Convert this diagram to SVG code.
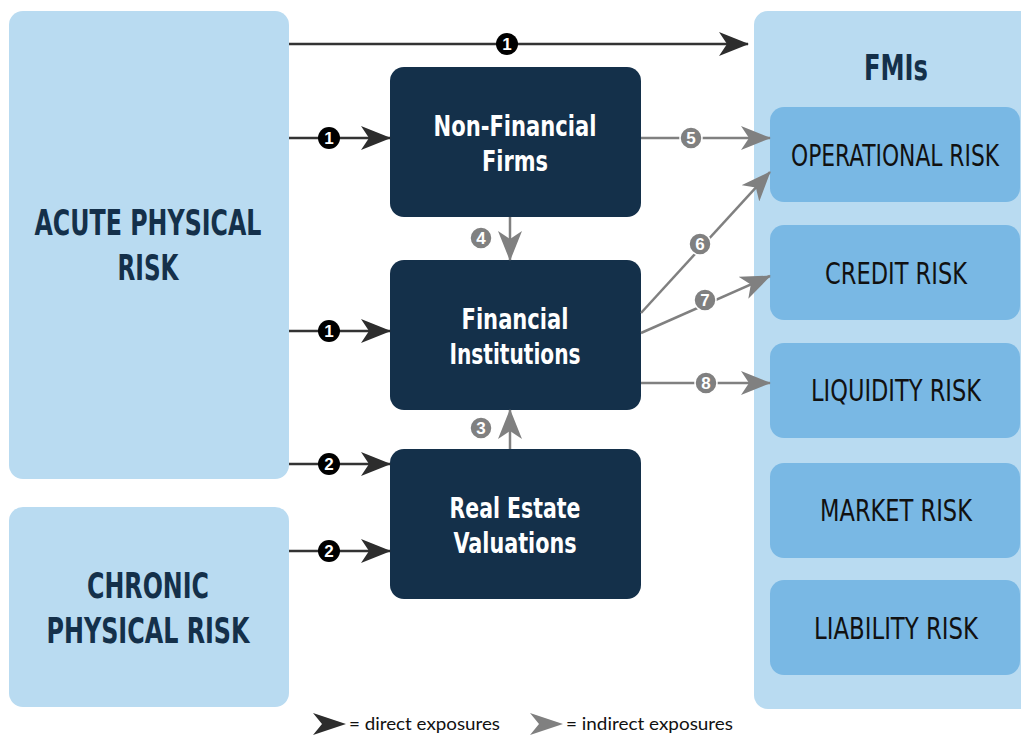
<svg xmlns="http://www.w3.org/2000/svg" width="1021" height="736" viewBox="0 0 1021 736">
<defs>
<style>
.lt{fill:#b9dbf1}
.rk{fill:#79b8e4}
.dk{fill:#14304a}
.h{font-family:"Liberation Sans Narrow","DejaVu Sans Condensed","Liberation Sans",sans-serif;font-weight:bold;fill:#14304a;text-anchor:middle}
.w{font-family:"Liberation Sans Narrow","DejaVu Sans Condensed","Liberation Sans",sans-serif;font-weight:bold;fill:#fff;text-anchor:middle;font-size:28px}
.r{font-family:"Liberation Sans Narrow","DejaVu Sans Condensed","Liberation Sans",sans-serif;fill:#111;text-anchor:middle;font-size:30px}
.ld{stroke:#333;stroke-width:2.5;fill:none}
.lg{stroke:#808080;stroke-width:2.5;fill:none}
.bd{fill:#000}
.bg{fill:#808080;stroke:#fff;stroke-width:1.5}
.n{font-family:"Liberation Sans Narrow","Liberation Sans",sans-serif;font-weight:bold;font-size:17px;fill:#fff;text-anchor:middle}
.lgd{font-family:Lato,"Liberation Sans",sans-serif;font-size:18px;fill:#111}
</style>
<marker id="ad" viewBox="0 0 30 24" refX="29" refY="12" markerWidth="30" markerHeight="24" markerUnits="userSpaceOnUse" orient="auto">
<path d="M0,0 L30,12 L0,24 L8,12 Z" fill="#2d2d2d"/>
</marker>
<marker id="ag" viewBox="0 0 30 24" refX="29" refY="12" markerWidth="30" markerHeight="24" markerUnits="userSpaceOnUse" orient="auto">
<path d="M0,0 L30,12 L0,24 L8,12 Z" fill="#808080"/>
</marker>
</defs>
<rect width="1021" height="736" fill="#fff"/>

<g id="acute"><rect class="lt" x="9" y="11" width="280" height="468" rx="14"/>
<text class="h" x="148" y="235" font-size="36" textLength="227" lengthAdjust="spacingAndGlyphs">ACUTE PHYSICAL</text>
<text class="h" x="148" y="280" font-size="36" textLength="61" lengthAdjust="spacingAndGlyphs">RISK</text></g>

<g id="chronic"><rect class="lt" x="9" y="507" width="280" height="200" rx="14"/>
<text class="h" x="148" y="598" font-size="36" textLength="122" lengthAdjust="spacingAndGlyphs">CHRONIC</text>
<text class="h" x="148" y="643" font-size="36" textLength="203" lengthAdjust="spacingAndGlyphs">PHYSICAL RISK</text></g>

<g id="fmis"><rect class="lt" x="754" y="11" width="290" height="698" rx="14"/>
<text class="h" x="896" y="80" font-size="36" textLength="64" lengthAdjust="spacingAndGlyphs">FMIs</text></g>

<g id="operational"><rect class="rk" x="770" y="107" width="250" height="95" rx="14"/><text class="r" x="895" y="166" textLength="208" lengthAdjust="spacingAndGlyphs">OPERATIONAL RISK</text></g>
<g id="credit"><rect class="rk" x="770" y="225" width="250" height="95" rx="14"/><text class="r" x="896" y="284" textLength="142" lengthAdjust="spacingAndGlyphs">CREDIT RISK</text></g>
<g id="liquidity"><rect class="rk" x="770" y="343" width="250" height="95" rx="14"/><text class="r" x="896" y="401" textLength="170" lengthAdjust="spacingAndGlyphs">LIQUIDITY RISK</text></g>
<g id="market"><rect class="rk" x="770" y="463" width="250" height="95" rx="14"/><text class="r" x="896" y="521" textLength="152" lengthAdjust="spacingAndGlyphs">MARKET RISK</text></g>
<g id="liability"><rect class="rk" x="770" y="580" width="250" height="95" rx="14"/><text class="r" x="896" y="639" textLength="164" lengthAdjust="spacingAndGlyphs">LIABILITY RISK</text></g>

<g id="nonfinancial"><rect class="dk" x="390" y="67" width="251" height="150" rx="14"/>
<text class="w" x="515" y="136" textLength="163" lengthAdjust="spacingAndGlyphs">Non-Financial</text>
<text class="w" x="515" y="171" textLength="66" lengthAdjust="spacingAndGlyphs">Firms</text></g>
<g id="financial"><rect class="dk" x="390" y="260" width="251" height="150" rx="14"/>
<text class="w" x="515" y="329" textLength="107" lengthAdjust="spacingAndGlyphs">Financial</text>
<text class="w" x="515" y="364" textLength="131" lengthAdjust="spacingAndGlyphs">Institutions</text></g>
<g id="realestate"><rect class="dk" x="390" y="449" width="251" height="150" rx="14"/>
<text class="w" x="515" y="518" textLength="131" lengthAdjust="spacingAndGlyphs">Real Estate</text>
<text class="w" x="515" y="553" textLength="123" lengthAdjust="spacingAndGlyphs">Valuations</text></g>

<g id="connectors">
<line class="ld" x1="289" y1="44" x2="748" y2="44" marker-end="url(#ad)"/>
<line class="ld" x1="289" y1="138" x2="390" y2="138" marker-end="url(#ad)"/>
<line class="ld" x1="289" y1="331" x2="390" y2="331" marker-end="url(#ad)"/>
<line class="ld" x1="289" y1="464" x2="390" y2="464" marker-end="url(#ad)"/>
<line class="ld" x1="289" y1="551" x2="390" y2="551" marker-end="url(#ad)"/>
<line class="lg" x1="641" y1="138" x2="770" y2="138" marker-end="url(#ag)"/>
<line class="lg" x1="510" y1="217" x2="510" y2="260" marker-end="url(#ag)"/>
<line class="lg" x1="510" y1="449" x2="510" y2="410" marker-end="url(#ag)"/>
<line class="lg" x1="641" y1="313" x2="770" y2="172" marker-end="url(#ag)"/>
<line class="lg" x1="641" y1="333" x2="770" y2="276" marker-end="url(#ag)"/>
<line class="lg" x1="641" y1="383" x2="770" y2="383" marker-end="url(#ag)"/>

<circle class="bd" cx="507" cy="44" r="11"/><text class="n" x="507" y="50">1</text>
<circle class="bd" cx="329" cy="138" r="11"/><text class="n" x="329" y="144">1</text>
<circle class="bd" cx="329" cy="331" r="11"/><text class="n" x="329" y="337">1</text>
<circle class="bd" cx="329" cy="464" r="11"/><text class="n" x="329" y="470">2</text>
<circle class="bd" cx="329" cy="551" r="11"/><text class="n" x="329" y="557">2</text>
<circle class="bg" cx="691" cy="138" r="11"/><text class="n" x="691" y="144">5</text>
<circle class="bg" cx="481" cy="238" r="11"/><text class="n" x="481" y="244">4</text>
<circle class="bg" cx="481" cy="428" r="11"/><text class="n" x="481" y="434">3</text>
<circle class="bg" cx="700" cy="244" r="11"/><text class="n" x="700" y="250">6</text>
<circle class="bg" cx="705" cy="300" r="11"/><text class="n" x="705" y="306">7</text>
<circle class="bg" cx="706" cy="383" r="11"/><text class="n" x="706" y="389">8</text>
</g>

<g id="legend">
<path d="M313,713 L346,724 L313,735 L322,724 Z" fill="#2d2d2d"/>
<text class="lgd" x="349" y="730" textLength="151" lengthAdjust="spacingAndGlyphs">= direct exposures</text>
<path d="M530,713 L563,724 L530,735 L539,724 Z" fill="#808080"/>
<text class="lgd" x="566" y="730" textLength="167" lengthAdjust="spacingAndGlyphs">= indirect exposures</text>
</g>
</svg>
